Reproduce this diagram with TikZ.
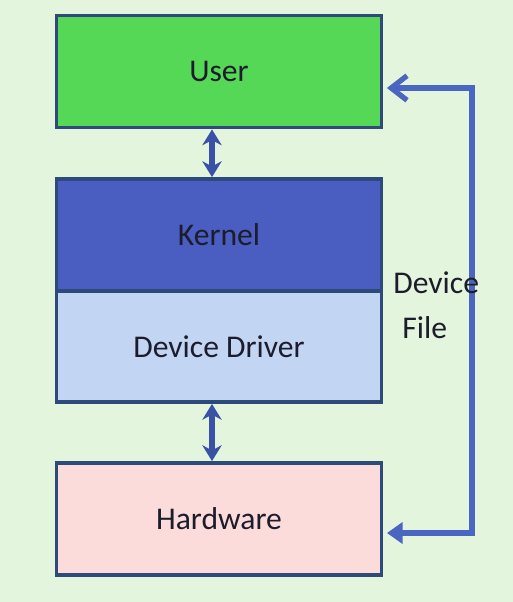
\documentclass[tikz,border=0pt]{standalone}
\usepackage{fontspec}
\setmainfont{Carlito}
\usetikzlibrary{arrows.meta}
\definecolor{bgcol}{HTML}{E3F6DD}
\definecolor{usercol}{HTML}{56D857}
\definecolor{kernelcol}{HTML}{4A5EC2}
\definecolor{drivercol}{HTML}{C2D5F3}
\definecolor{hwcol}{HTML}{FCDCDA}
\definecolor{edgecol}{HTML}{2E4A7A}
\definecolor{linkcol}{HTML}{4A66C0}
\definecolor{shaftcol}{HTML}{3A52A6}
\definecolor{txtcol}{HTML}{1C1C2C}
\tikzset{
  layer/.style={draw=edgecol, line width=2.2pt, minimum width=6.5cm,
    minimum height=2.24cm, inner sep=0pt, text=txtcol,
    font=\fontsize{18}{21}\selectfont},
  link/.style={draw=linkcol, line width=3pt},
  updown/.style={draw=shaftcol, line width=3.6pt,
    {Stealth[length=9pt,width=11pt]}-{Stealth[length=9pt,width=11pt]}},
  lbl/.style={text=txtcol, inner sep=0pt, anchor=west,
    font=\fontsize{18}{21}\selectfont}
}
\begin{document}
\begin{tikzpicture}[x=0.02cm, y=-0.02cm]
  \fill[bgcol] (0,0) rectangle (513,602);
  \useasboundingbox (0,0) rectangle (513,602);
  \draw
    (219,71.5) node[layer, fill=usercol] (user){User}
    (219,235) node[layer, fill=kernelcol] (kernel){Kernel}
    (219,346.5) node[layer, fill=drivercol, minimum height=2.22cm] (driver){Device Driver}
    (219,519) node[layer, fill=hwcol] (hw){Hardware};
  \coordinate (turn1) at (472,88);
  \coordinate (turn2) at (472,533);
  \begin{scope}[updown]
    \draw ([xshift=-0.14cm]user.south) to ([xshift=-0.14cm]kernel.north);
    \draw ([xshift=-0.14cm]driver.south) to ([xshift=-0.14cm]hw.north);
  \end{scope}
  \begin{scope}[link]
    \draw[{Straight Barb[length=9pt,width=14pt]}-{Triangle[length=9pt,width=12pt]}, line join=miter]
      ([xshift=2pt]user.east |- turn1) -- (turn1) -- (turn2) -- ([xshift=2pt]hw.east |- turn2);
  \end{scope}
  \node[lbl] (devlbl) at (393,283) {Device};
  \node[lbl] (filelbl) at (402,328) {File};
\end{tikzpicture}
\end{document}
